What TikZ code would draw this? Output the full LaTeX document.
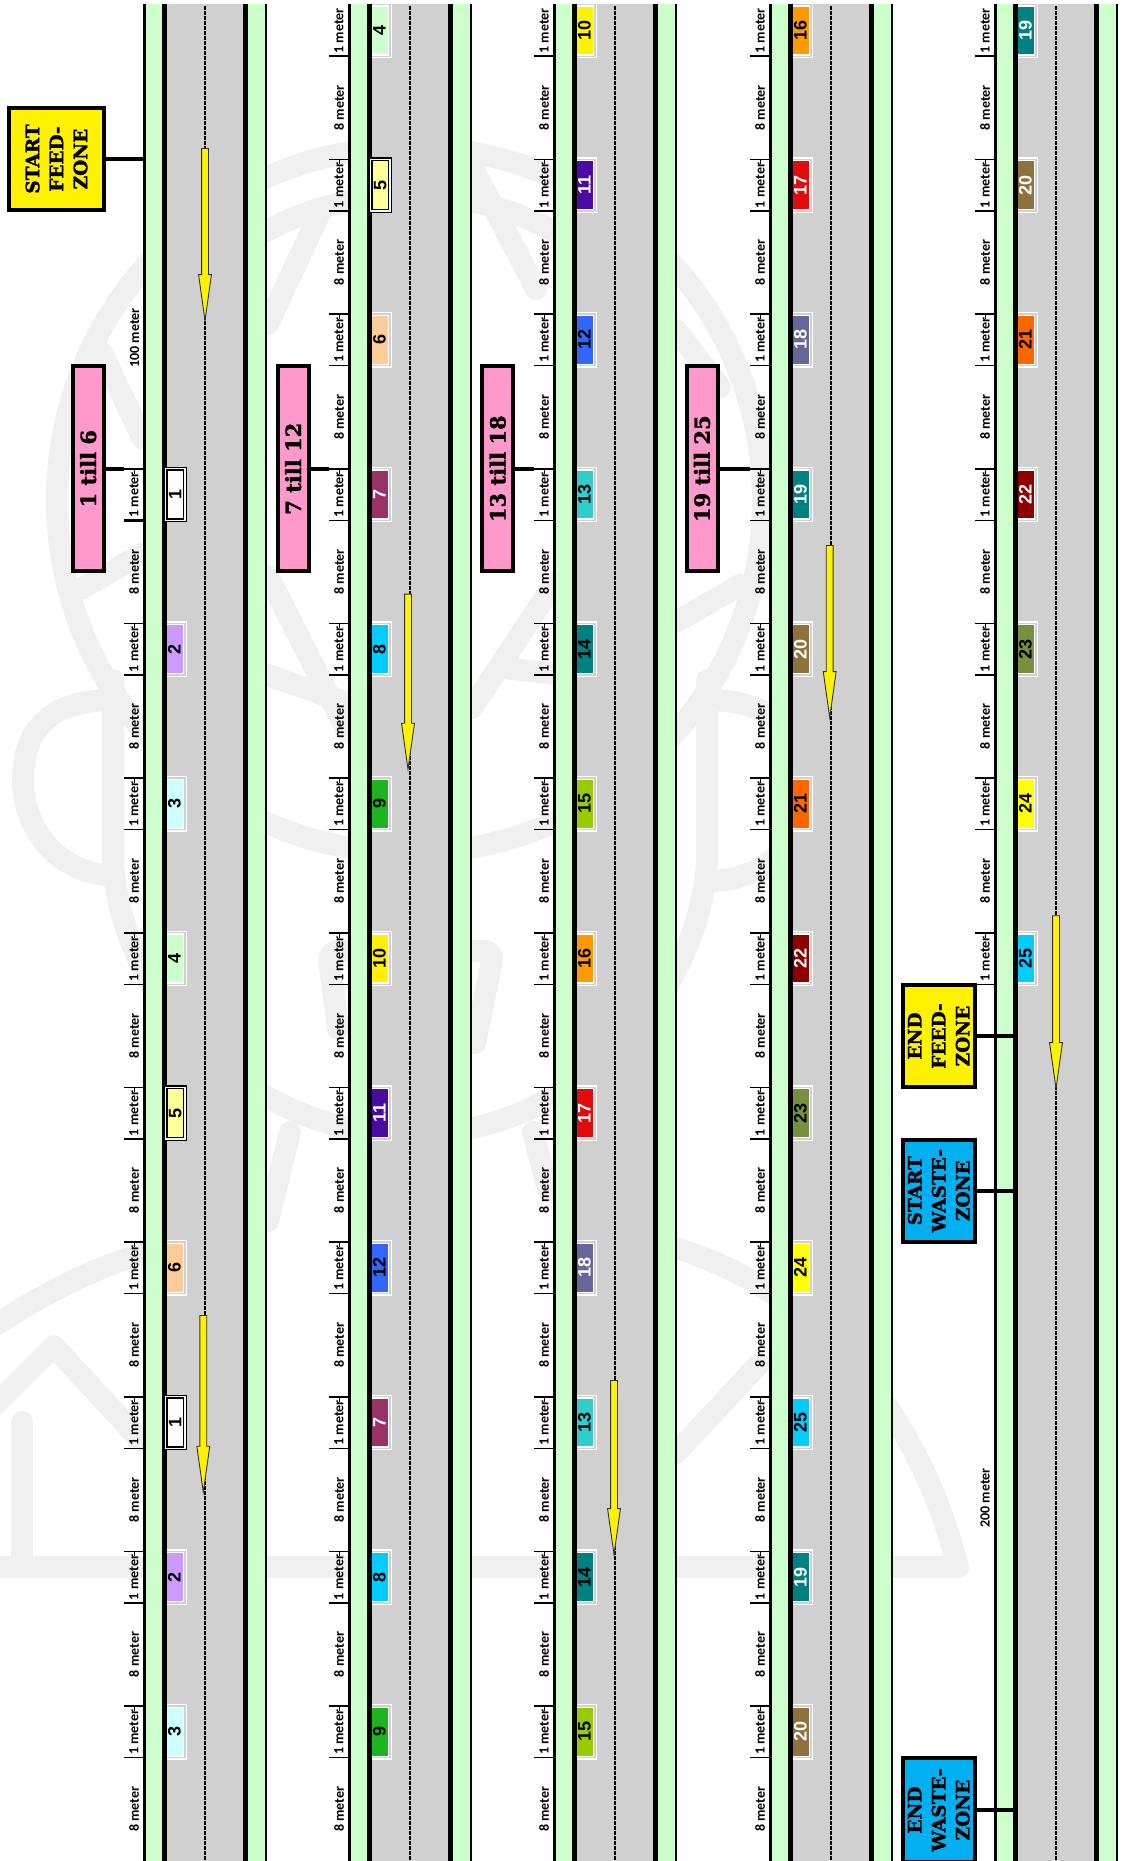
\documentclass[tikz,border=0pt]{standalone}
\usepackage{fontspec}
\newfontfamily\zonefont{DejaVu Serif}[BoldFeatures={FakeBold=1.5}]
\newfontfamily\meterfont{Carlito}
\newfontfamily\numfont{Liberation Sans}
\usepackage{tikz}
\usetikzlibrary{shapes.arrows, positioning}
\definecolor{vergegreen}{HTML}{CCFFCC}
\definecolor{roadgrey}{HTML}{D0D0D0}
\definecolor{feedyellow}{HTML}{FFF200}
\definecolor{wasteblue}{HTML}{00B0F0}
\definecolor{groupink}{HTML}{FF99CC}
\definecolor{watermark}{HTML}{F0F0F0}
\definecolor{car2col}{HTML}{CC99FF}
\definecolor{car3col}{HTML}{CCFFFF}
\definecolor{car4col}{HTML}{CCFFCC}
\definecolor{car5col}{HTML}{FFFF99}
\definecolor{car6col}{HTML}{FFCC99}
\definecolor{car7col}{HTML}{993366}
\definecolor{car8col}{HTML}{00CCFF}
\definecolor{car9col}{HTML}{1DB51D}
\definecolor{car10col}{HTML}{FFF200}
\definecolor{car11col}{HTML}{4B0AA0}
\definecolor{car12col}{HTML}{3366FF}
\definecolor{car13col}{HTML}{33CCCC}
\definecolor{car14col}{HTML}{008080}
\definecolor{car15col}{HTML}{99CC00}
\definecolor{car16col}{HTML}{FF9900}
\definecolor{car17col}{HTML}{E00B0B}
\definecolor{car18col}{HTML}{666699}
\definecolor{car19col}{HTML}{008080}
\definecolor{car20col}{HTML}{8E713C}
\definecolor{car21col}{HTML}{FF6600}
\definecolor{car22col}{HTML}{8C0000}
\definecolor{car23col}{HTML}{769040}
\definecolor{car24col}{HTML}{FFFF00}
\definecolor{car25col}{HTML}{00CCFF}
\tikzset{
  zonebox/.style={rectangle, draw=black, line width=4pt, rotate=90, align=center,
                  minimum width=101.6pt, minimum height=94.4pt, inner sep=0,
                  font=\zonefont\bfseries\fontsize{18.5}{24}\selectfont},
  endzonebox/.style={zonebox, minimum height=71.7pt},
  groupbox/.style={rectangle, draw=black, line width=4pt, fill=groupink, rotate=90,
                   minimum width=205.3pt, minimum height=31pt, inner sep=0,
                   font=\zonefont\bfseries\fontsize{21}{24}\selectfont},
  zoneline/.style={line width=4pt},
  grouplink/.style={line width=4pt},
  tickline/.style={line width=1.6pt},
  meterlab/.style={rotate=90, inner sep=0, font=\meterfont\bfseries\fontsize{14}{16}\selectfont},
  carbox/.style={rectangle, rotate=90, inner sep=0, draw=white, line width=1.3pt,
                 double=roadgrey, double distance=1.5pt,
                 minimum width=51.6pt, minimum height=20.8pt,
                 font=\numfont\bfseries\fontsize{18}{20}\selectfont},
  carmark/.style={carbox, draw=black, double=white!80!roadgrey, minimum height=19.3pt},
  car1/.style={carmark, fill=white},
  car2/.style={carbox, fill=car2col},
  car3/.style={carbox, fill=car3col},
  car4/.style={carbox, fill=car4col},
  car5/.style={carmark, fill=car5col},
  car6/.style={carbox, fill=car6col},
  car7/.style={carbox, fill=car7col, text=white},
  car8/.style={carbox, fill=car8col},
  car9/.style={carbox, fill=car9col},
  car10/.style={carbox, fill=car10col},
  car11/.style={carbox, fill=car11col, text=white},
  car12/.style={carbox, fill=car12col},
  car13/.style={carbox, fill=car13col},
  car14/.style={carbox, fill=car14col},
  car15/.style={carbox, fill=car15col},
  car16/.style={carbox, fill=car16col},
  car17/.style={carbox, fill=car17col, text=white},
  car18/.style={carbox, fill=car18col, text=white},
  car19/.style={carbox, fill=car19col, text=white},
  car20/.style={carbox, fill=car20col, text=white},
  car21/.style={carbox, fill=car21col},
  car22/.style={carbox, fill=car22col, text=white},
  car23/.style={carbox, fill=car23col},
  car24/.style={carbox, fill=car24col},
  car25/.style={carbox, fill=car25col},
  flowarrow/.style={single arrow, shape border rotate=270, anchor=tail, draw=black!80, fill=yellow,
                    line width=0.9pt, inner sep=3pt, minimum width=12pt,
                    single arrow head extend=3pt, single arrow tip angle=16},
  wmline/.style={draw=watermark, line width=22pt, line cap=round, line join=round},
}

\begin{document}
\begin{tikzpicture}[x=1pt, y=-1pt]
  \clip (0,0) rectangle (1124,1861);
  % --- watermark ---
  \draw[wmline] (410,500) circle[radius=353];
  \draw[wmline] plot[domain=55:125, samples=30] ({410+305*cos(\x)},{500-305*sin(\x)});
  \foreach \ax/\ay/\bx/\by in {268/324/319/215, 102/353/143/439, 83/588/143/553, 268/576/347/731,
                               265/674/347/703, 475/172/536/289, 472/708/555/582, 676/330/720/387,
                               676/622/740/585, 504/668/555/674}
    \draw[wmline] (\ax,\ay) -- (\bx,\by);
  \draw[wmline] (113,680) -- (113,860) .. controls (120,1000) and (250,1135) .. (410,1135)
                .. controls (570,1135) and (700,1000) .. (707,860) -- (707,680);
  \draw[wmline] (113,700) .. controls (40,700) and (23,740) .. (23,780)
                .. controls (23,830) and (60,875) .. (113,875);
  \draw[wmline] (707,700) .. controls (780,700) and (805,740) .. (805,790)
                .. controls (805,840) and (768,881) .. (707,881);
  \draw[wmline, rounded corners=10pt] (338,1029) -- (328,951) -- (494,951) -- (475,1043);
  \draw[wmline] (290,1132) -- (268,1221);
  \draw[wmline] (533,1132) -- (548,1190);
  \draw[wmline] (-15,1332) .. controls (40,1295) and (90,1270) .. (143,1253);
  \draw[wmline] (676,1248) .. controls (810,1290) and (915,1400) .. (958,1567);
  \draw[wmline] (-15,1567) -- (958,1567);
  \draw[wmline] (-15,1415) -- (54,1346) -- (140,1440);
  \draw[wmline] (676,1453) -- (759,1364);
  \draw[wmline] (22,1422) -- (22,1565);

  % --- road bands ---
  \foreach \rx in {144,349,554,770,995} {
    \fill[vergegreen] (\rx,4) rectangle (\rx+122,1861);
    \fill[roadgrey] (\rx+20.5,4) rectangle (\rx+101.6,1861);
  }

  \foreach \k/\num in {1/2,2/3,3/4,5/6,7/2,8/3}
    \node[car\num] (cara\k) at (174.4,494.5+154.67*\k) {\num};
  \foreach \k/\num in {-3/4,-1/6,0/7,1/8,2/9,3/10,4/11,5/12,6/7,7/8,8/9}
    \node[car\num] (carb\k) at (379.4,494.5+154.67*\k) {\num};
  \foreach \k/\num in {-3/10,-2/11,-1/12,0/13,1/14,2/15,3/16,4/17,5/18,6/13,7/14,8/15}
    \node[car\num] (carc\k) at (584.4,494.5+154.67*\k) {\num};
  \foreach \k/\num in {-3/16,-2/17,-1/18,0/19,1/20,2/21,3/22,4/23,5/24,6/25,7/19,8/20}
    \node[car\num] (card\k) at (800.4,494.5+154.67*\k) {\num};
  \foreach \k/\num in {-3/19,-2/20,-1/21,0/22,1/23,2/24,3/25}
    \node[car\num] (care\k) at (1025.4,494.5+154.67*\k) {\num};

  \foreach \rx in {144,349,554,770,995} {
    \draw[line width=2.2pt] (\rx+0.5,4) -- (\rx+0.5,1861);
    \draw[line width=2.2pt] (\rx+121.8,4) -- (\rx+121.8,1861);
    \draw[line width=4.5pt] (\rx+20.5,4) -- (\rx+20.5,1861);
    \draw[line width=4.5pt] (\rx+101.6,4) -- (\rx+101.6,1861);
    \draw[line width=1.4pt, dash pattern=on 3.5pt off 1.5pt] (\rx+61,6) -- (\rx+61,1861);
  }

  % marked cars sit over the kerb line
  \node[car1] (mark1) at (175.3,494.5) {1};
  \node[car5] (mark2) at (175.3,1113.2) {5};
  \node[car1] (mark3) at (175.3,1422.5) {1};
  \node[car5] (mark4) at (380.3,185.2) {5};

  % --- distance marks ---
  \foreach \rx/\rid/\first/\last/\lastgap in {144/a/0/8/8, 349/b/-3/8/8, 554/c/-3/8/8, 770/d/-3/8/8, 995/e/-3/3/2} {
    \foreach \k in {\first,...,\last} {
      \pgfmathsetmacro{\ytop}{468.7+154.67*\k}
      \pgfmathsetmacro{\ybot}{\ytop+51.6}
      \coordinate (tick\rid\k) at (\rx-20,\ytop);
      \coordinate (low\rid\k) at (\rx-20,\ybot);
      \coordinate (lowend\rid\k) at (\rx+2,\ybot);
      \draw[tickline] (low\rid\k) -- (lowend\rid\k);
      \ifnum\k>-3
        \draw[tickline] (tick\rid\k) -- (\rx+2,\ytop);
        \draw[tickline] (\rx-9.5,\ytop) -- (\rx-9.5,\ytop+5);
      \fi
      \node[meterlab] (one\rid\k) at (\rx-10,\ytop+26) {1 meter};
      \ifnum\k>\lastgap\else
        \node[meterlab] (eight\rid\k) at (\rx-10,\ybot+51.5) {8 meter};
      \fi
    }
  }
  \draw[line width=3pt] (lowa0) -- (lowenda0);
  \node[meterlab] (hundred) at (134.5,338) {100 meter};
  \node[meterlab] (twohundred) at (985,1498) {200 meter};

  % --- groups ---
  \node[groupbox] (groupa) at (88.2,468.7) {1 till 6};
  \node[groupbox] (groupb) at (293.2,468.7) {7 till 12};
  \node[groupbox] (groupc) at (497.7,468.7) {13 till 18};
  \node[groupbox] (groupd) at (702,468.7) {19 till 25};
  \draw[grouplink] (groupa.south) -- (ticka0);
  \draw[grouplink] (groupb.south) -- (tickb0);
  \draw[grouplink] (groupc.south) -- (tickc0);
  \draw[grouplink] (groupd.south) -- (tickd0);

  % --- zones ---
  \coordinate (verge) at (144,0);
  \coordinate (kerb) at (1013,0);
  \node[zonebox, fill=feedyellow] (startfeed) at (56.5,159) {START\\FEED-\\ZONE};
  \node[endzonebox, fill=feedyellow] (endfeed) at (938.8,1036) {END\\FEED-\\ZONE};
  \node[endzonebox, fill=wasteblue] (startwaste) at (938.8,1190.7) {START\\WASTE-\\ZONE};
  \node[endzonebox, fill=wasteblue, minimum width=104pt] (endwaste) at (938.8,1810) {END\\WASTE-\\ZONE};
  \draw[zoneline] (startfeed.south) -- (startfeed.south -| verge);
  \draw[zoneline] (endfeed.south) -- (endfeed.south -| kerb);
  \draw[zoneline] (startwaste.south) -- (startwaste.south -| kerb);
  \draw[zoneline] (endwaste.south) -- (endwaste.south -| kerb);

  % --- flow arrows ---
  \node[flowarrow, minimum height=172pt] (flowa) at (205,148) {};
  \node[flowarrow, minimum height=176.7pt] (flowb) at (203.3,1315) {};
  \node[flowarrow, minimum height=175pt] (flowc) at (408,593.7) {};
  \node[flowarrow, minimum height=174pt] (flowd) at (614,1380) {};
  \node[flowarrow, minimum height=172pt] (flowe) at (829.7,545) {};
  \node[flowarrow, minimum height=172.7pt] (flowf) at (1056,915.3) {};
\end{tikzpicture}
\end{document}
